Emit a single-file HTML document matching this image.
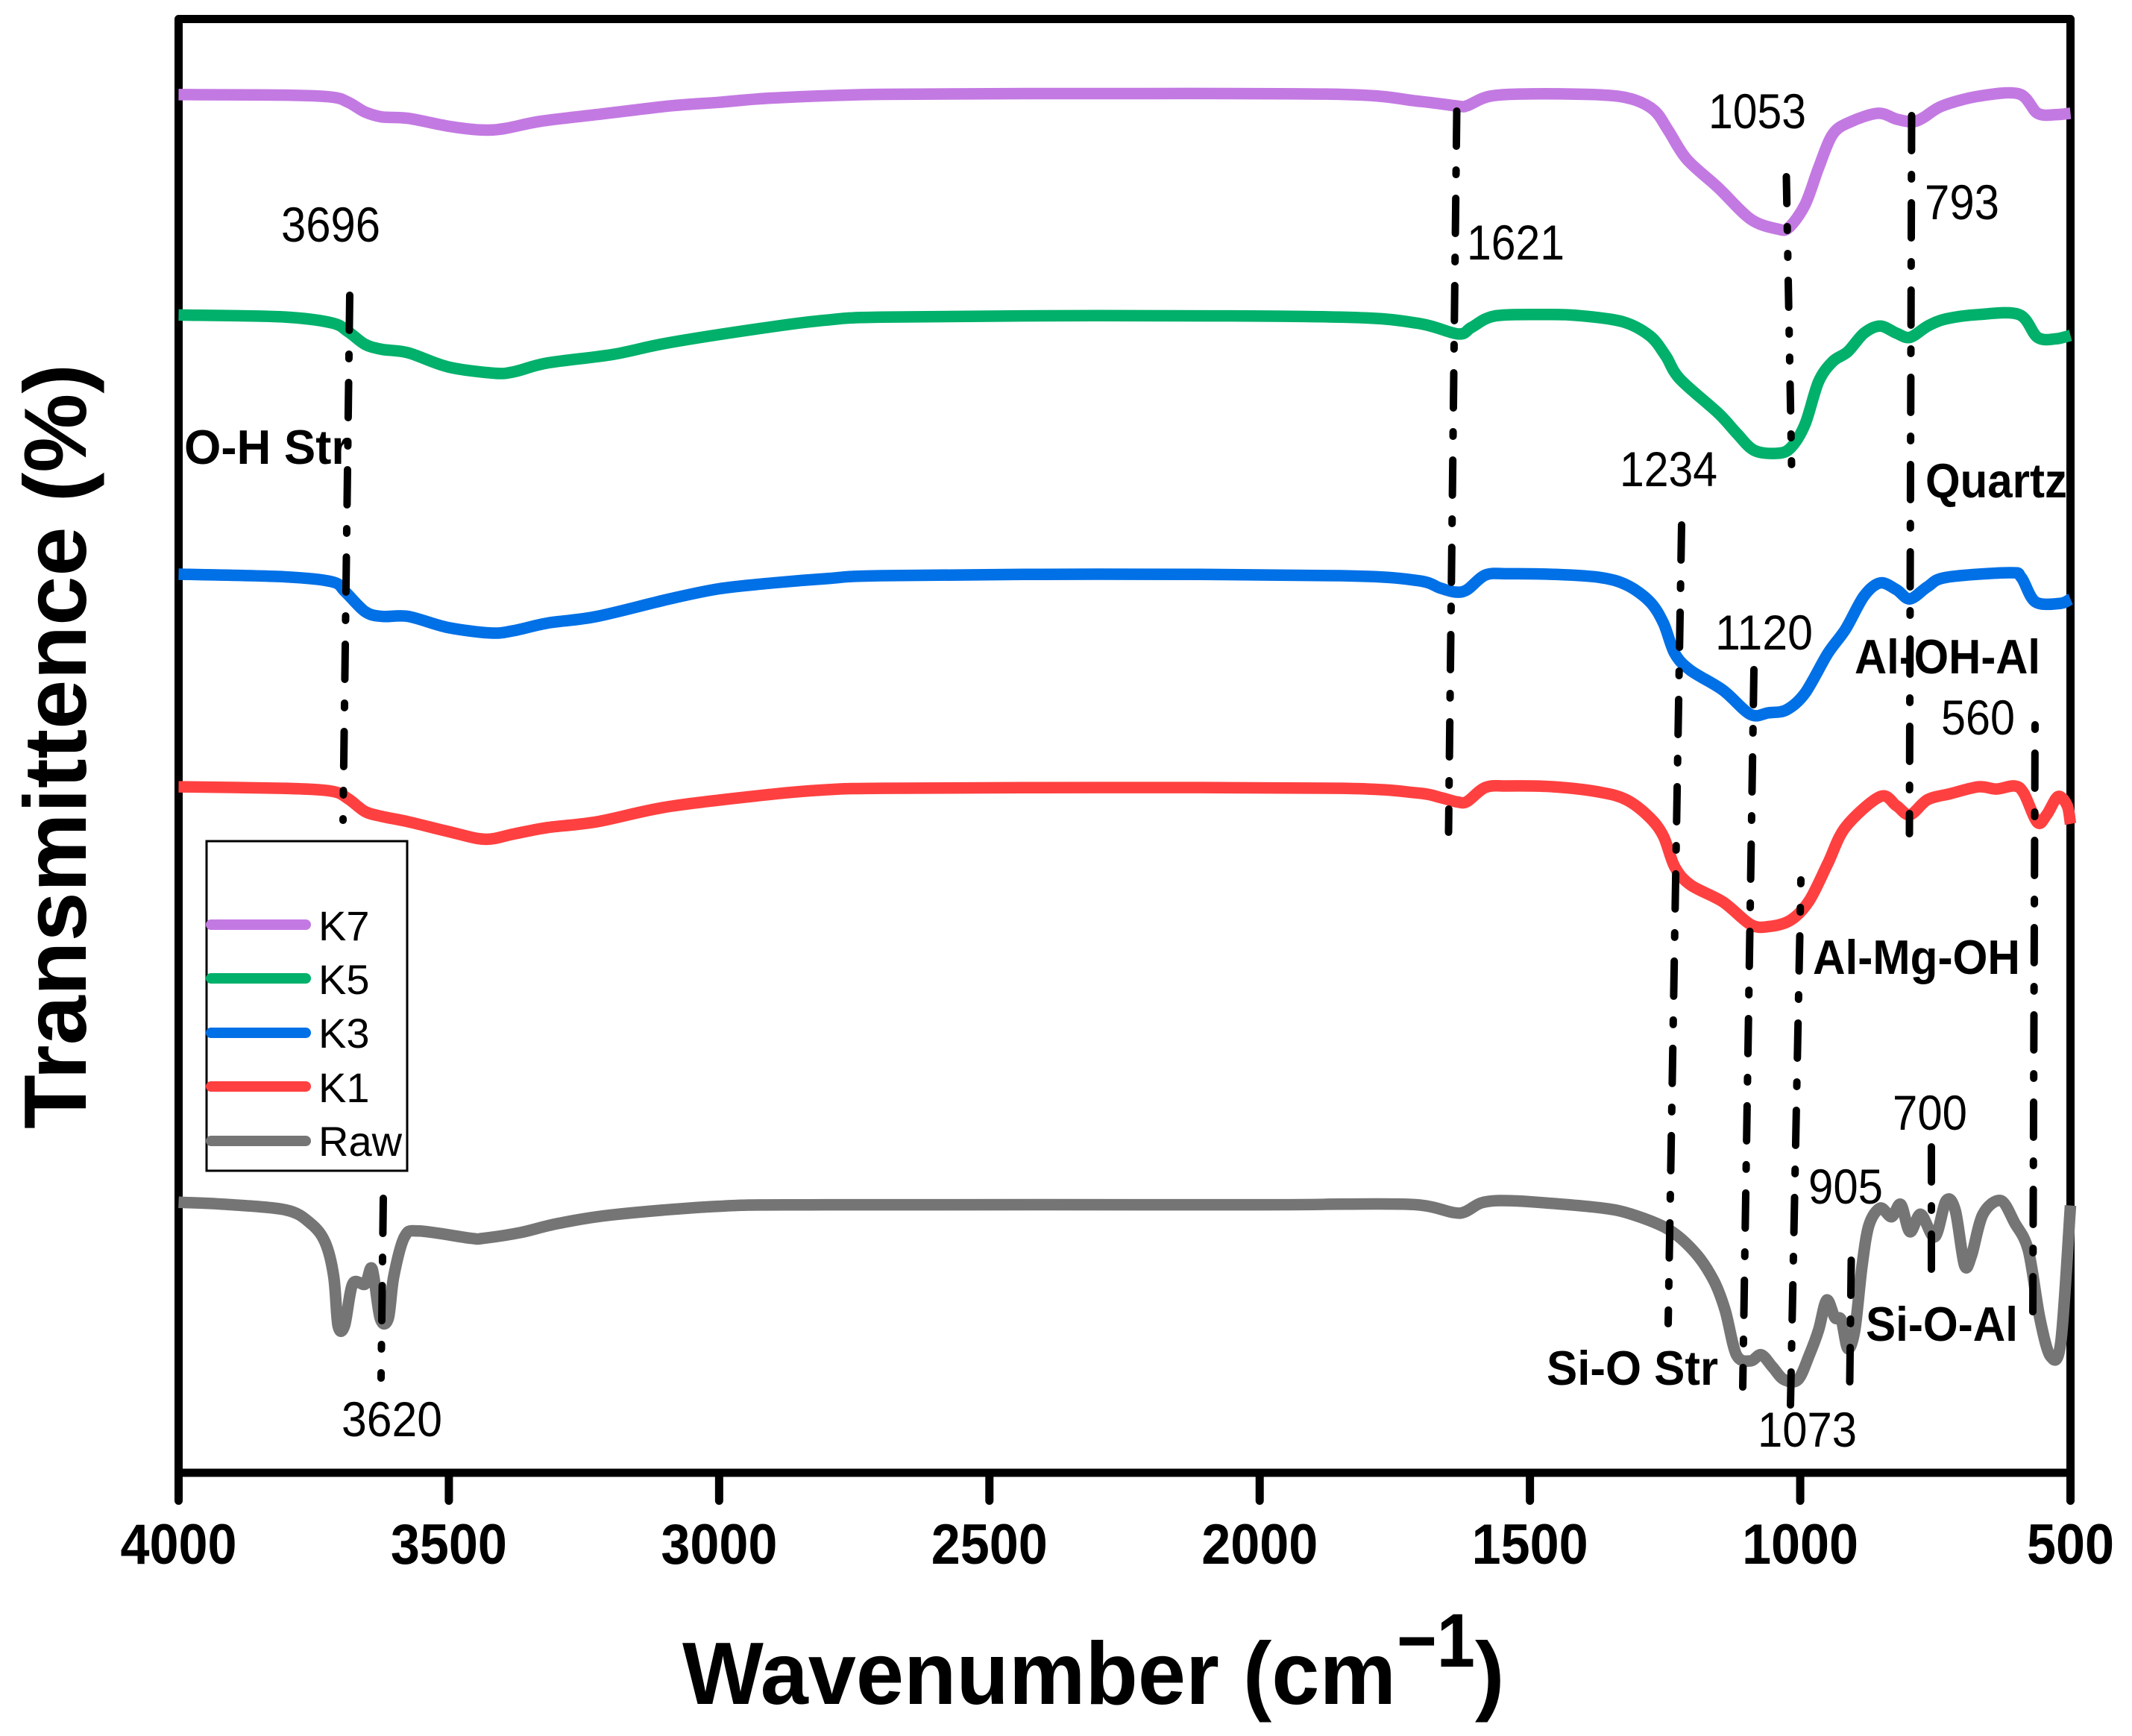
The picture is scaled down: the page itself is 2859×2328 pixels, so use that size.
<!DOCTYPE html>
<html lang="en">
<head>
<meta charset="utf-8">
<title>FTIR spectra</title>
<style>
html,body{margin:0;padding:0;background:#fff;}
svg{display:block;}
text{font-family:"Liberation Sans",Arial,sans-serif;fill:#000;}
.num{font-size:66px;}
.bold{font-size:65px;font-weight:bold;}
.leg{font-size:56px;}
.tick{font-size:76px;font-weight:bold;}
.ann{fill:none;stroke:#000;stroke-width:10;stroke-linecap:round;}
</style>
</head>
<body>
<svg id="chart" xmlns="http://www.w3.org/2000/svg" width="2859" height="2328" viewBox="0 0 2859 2328">
  <rect x="0" y="0" width="2859" height="2328" fill="#fff"/>
  <rect x="239.5" y="25.5" width="2537" height="1949.5" fill="none" stroke="#000" stroke-width="11" stroke-linejoin="round"/>
  <g id="x-ticks"></g>
  <g id="x-labels"></g>
  <g id="series"></g>

  <g>
    <line class="ann" x1="469" y1="396" x2="460" y2="1100" stroke-dasharray="47 32 6 32"/>
    <line class="ann" x1="514" y1="1607" x2="511" y2="1848" stroke-dasharray="47 32 6 32"/>
    <line class="ann" x1="1953.5" y1="149" x2="1942.5" y2="1116" stroke-dasharray="47 32 6 32"/>
    <line class="ann" x1="2395.5" y1="237" x2="2402.5" y2="625" stroke-dasharray="36 31 5 31 5 31"/>
    <line class="ann" x1="2563.5" y1="155" x2="2560.5" y2="1118" stroke-dasharray="47 32 6 32"/>
    <line class="ann" x1="2255" y1="704" x2="2237" y2="1775" stroke-dasharray="47 32 6 32"/>
    <line class="ann" x1="2352" y1="898" x2="2337" y2="1860" stroke-dasharray="47 32 6 32"/>
    <line class="ann" x1="2415" y1="1180" x2="2401" y2="1884" stroke-dasharray="47 32 6 32" stroke-dashoffset="42"/>
    <line class="ann" x1="2729" y1="972" x2="2726" y2="1760" stroke-dasharray="47 32 6 32" stroke-dashoffset="79"/>
    <line class="ann" x1="2482.5" y1="1690" x2="2480.5" y2="1853" stroke-dasharray="47 32 6 32"/>
    <line class="ann" x1="2590" y1="1538" x2="2590" y2="1702" stroke-dasharray="47 32 6 32"/>
  </g>

  <g>
    <text class="num" x="377" y="324" textLength="133" lengthAdjust="spacingAndGlyphs">3696</text>
    <text class="num" x="2291" y="172" textLength="131" lengthAdjust="spacingAndGlyphs">1053</text>
    <text class="num" x="2581" y="294" textLength="100" lengthAdjust="spacingAndGlyphs">793</text>
    <text class="num" x="1967" y="348" textLength="131" lengthAdjust="spacingAndGlyphs">1621</text>
    <text class="num" x="2172" y="652" textLength="131" lengthAdjust="spacingAndGlyphs">1234</text>
    <text class="num" x="2300" y="871" textLength="131" lengthAdjust="spacingAndGlyphs">1120</text>
    <text class="num" x="2603" y="985" textLength="99" lengthAdjust="spacingAndGlyphs">560</text>
    <text class="num" x="2425" y="1614" textLength="100" lengthAdjust="spacingAndGlyphs">905</text>
    <text class="num" x="2538" y="1515" textLength="100" lengthAdjust="spacingAndGlyphs">700</text>
    <text class="num" x="2357" y="1940" textLength="133" lengthAdjust="spacingAndGlyphs">1073</text>
    <text class="num" x="458" y="1926" textLength="135" lengthAdjust="spacingAndGlyphs">3620</text>

    <text class="bold" x="247" y="622" textLength="222" lengthAdjust="spacingAndGlyphs">O-H Str</text>
    <text class="bold" x="2582" y="667" textLength="190" lengthAdjust="spacingAndGlyphs">Quartz</text>
    <text class="bold" x="2487" y="903" textLength="249" lengthAdjust="spacingAndGlyphs">Al-OH-Al</text>
    <text class="bold" x="2431" y="1306" textLength="278" lengthAdjust="spacingAndGlyphs">Al-Mg-OH</text>
    <text class="bold" x="2502" y="1798" textLength="204" lengthAdjust="spacingAndGlyphs">Si-O-Al</text>
    <text class="bold" x="2074" y="1857" textLength="230" lengthAdjust="spacingAndGlyphs">Si-O Str</text>
  </g>

  <g>
    <rect x="277" y="1128" width="269" height="442" fill="none" stroke="#000" stroke-width="3"/>
    <line x1="283" y1="1240" x2="410" y2="1240" stroke="#c379e2" stroke-width="14" stroke-linecap="round"/>
    <text class="leg" x="427" y="1261">K7</text>
    <line x1="283" y1="1312" x2="410" y2="1312" stroke="#00b06b" stroke-width="14" stroke-linecap="round"/>
    <text class="leg" x="427" y="1333">K5</text>
    <line x1="283" y1="1385" x2="410" y2="1385" stroke="#0070e6" stroke-width="14" stroke-linecap="round"/>
    <text class="leg" x="427" y="1405">K3</text>
    <line x1="283" y1="1457" x2="410" y2="1457" stroke="#ff4040" stroke-width="14" stroke-linecap="round"/>
    <text class="leg" x="427" y="1478">K1</text>
    <line x1="283" y1="1530" x2="410" y2="1530" stroke="#757575" stroke-width="14" stroke-linecap="round"/>
    <text class="leg" x="427" y="1550">Raw</text>
  </g>

  <text transform="translate(115,1514) rotate(-90)" font-size="119" font-weight="bold" textLength="1026" lengthAdjust="spacingAndGlyphs">Transmittence (%)</text>
  <g>
    <text x="915" y="2285" font-size="119" font-weight="bold" textLength="957" lengthAdjust="spacingAndGlyphs">Wavenumber (cm</text>
    <text x="1873" y="2235" font-size="102" font-weight="bold" textLength="105" lengthAdjust="spacingAndGlyphs">&#8722;1</text>
    <text x="1978" y="2285" font-size="119" font-weight="bold">)</text>
  </g>
</svg>
<script>
const tickValues = [4000, 3500, 3000, 2500, 2000, 1500, 1000, 500];

const k7Wavenumber = [4000,3809,3717,3686,3655,3624,3575,3502,3440,3397,3330,3226,3092,3000,2900,2700,2300,1850,1709,1633,1616,1574,1497,1371,1312,1270,1244,1210,1152,1092,1042,1021,991,966,940,907,856,822,793,772,738,670,595,561,527,500];
const k7Transmittance = [94.63,94.6,94.46,94.1,93.43,93.1,93.0,92.47,92.2,92.3,92.8,93.26,93.85,94.1,94.4,94.65,94.7,94.65,94.19,93.84,93.87,94.52,94.68,94.62,94.33,93.54,92.17,90.2,88.25,86.09,85.4,85.5,87.07,89.6,91.9,92.76,93.35,92.95,92.76,93.05,93.84,94.52,94.68,93.35,93.25,93.35];

const k5Wavenumber = [4000,3809,3717,3686,3655,3624,3575,3502,3416,3379,3318,3195,3092,2900,2800,2700,2300,1850,1709,1633,1608,1565,1473,1413,1329,1278,1249,1223,1152,1118,1085,1042,1017,991,966,940,912,882,852,822,797,764,730,670,595,561,527,500];
const k5Transmittance = [79.5,79.37,78.96,78.34,77.48,77.14,76.9,75.94,75.5,75.6,76.2,76.8,77.6,78.7,79.15,79.35,79.45,79.35,78.94,78.2,78.65,79.43,79.53,79.47,79.04,78.06,76.7,75.12,72.77,71.4,70.2,70.0,70.4,72,74.92,76.3,76.98,78.25,78.74,78.25,77.96,78.74,79.23,79.53,79.53,77.96,77.86,78.1];

const k3Wavenumber = [4000,3809,3717,3692,3655,3624,3575,3502,3422,3379,3318,3226,3092,3000,2900,2800,2700,2300,1850,1709,1666,1637,1616,1582,1540,1456,1371,1321,1278,1253,1232,1203,1143,1092,1059,1025,991,949,916,882,852,822,797,764,730,612,591,565,518,500];
const k3Transmittance = [61.7,61.53,61.19,60.5,59.13,58.8,58.8,58.04,57.66,57.83,58.34,58.8,60.0,60.7,61.1,61.4,61.6,61.7,61.6,61.27,60.75,60.47,60.64,61.65,61.73,61.69,61.48,60.96,59.8,58.34,56.25,55.1,53.74,52.07,52.18,52.39,53.54,56.25,57.93,60.2,61.1,60.64,60,60.85,61.48,61.8,61.48,59.8,59.7,60];

const k1Wavenumber = [4000,3809,3717,3686,3655,3624,3575,3502,3434,3379,3318,3226,3092,2900,2800,2700,2300,1850,1709,1666,1633,1616,1582,1540,1456,1371,1321,1278,1253,1232,1203,1143,1092,1059,1017,983,949,916,852,822,797,764,721,670,637,603,586,561,544,523,506,500];
const k1Transmittance = [47.1,47,46.8,46.27,45.4,45.07,44.7,44.04,43.5,43.87,44.3,44.7,45.75,46.6,46.9,47.0,47.05,47.0,46.68,46.37,46.05,46.1,47.06,47.16,47.1,46.74,46.2,44.97,43.7,41.6,40.37,39.2,37.65,37.5,37.96,39.3,41.83,44.34,46.43,45.8,45.18,46.22,46.64,47.1,46.95,47.16,46.64,44.65,45.18,46.43,45.8,44.55];

const rawWavenumber = [4000,3917,3802,3756,3729,3713,3705,3693,3678,3655,3642,3627,3612,3602,3582,3555,3459,3436,3367,3300,3200,3000,2800,2000,1850,1709,1642,1620,1591,1557,1497,1371,1312,1244,1194,1160,1139,1118,1092,1072,1051,1030,1004,983,966,951,936,924,912,899,886,873,852,831,814,797,777,751,730,713,696,683,662,629,603,578,557,537,518,500];
const rawTransmittance = [18.57,18.44,18.05,17.13,15.83,13.48,10.09,10.09,12.96,12.96,14,10.6,10.6,13.48,16.2,16.6,16.1,16.1,16.5,17.1,17.7,18.3,18.4,18.4,18.45,18.4,17.87,17.92,18.52,18.69,18.6,18.2,17.75,16.72,15.1,13.2,11.18,8.1,7.68,8.1,7.25,6.4,6.4,8.1,9.8,11.86,10.66,10.5,8.53,9.8,14.08,16.98,18.17,17.58,18.43,16.55,17.75,16.2,18.69,18,14.25,14.93,17.75,18.69,17.15,15.27,10.66,8,8.96,18.35];

const seriesNames = ['k7', 'k5', 'k3', 'k1', 'raw'];
const seriesColors = ['#c379e2', '#00b06b', '#0070e6', '#ff4040', '#757575'];
const seriesX = [k7Wavenumber, k5Wavenumber, k3Wavenumber, k1Wavenumber, rawWavenumber];
const seriesY = [k7Transmittance, k5Transmittance, k3Transmittance, k1Transmittance, rawTransmittance];

const SVG_NS = 'http://www.w3.org/2000/svg';
const plotLeft = 239.5, plotRight = 2776.5, plotTop = 22, plotBottom = 1975;
function xScale(wn) { return plotLeft + (4000 - wn) / 3500 * (plotRight - plotLeft); }
function yScale(t) { return plotBottom - t / 100 * (plotBottom - plotTop); }

function smoothPath(pts) {
  let d = 'M' + pts[0][0].toFixed(1) + ' ' + pts[0][1].toFixed(1);
  const k = 0.16;
  for (let i = 0; i < pts.length - 1; i++) {
    const p0 = pts[Math.max(i - 1, 0)], p1 = pts[i], p2 = pts[i + 1], p3 = pts[Math.min(i + 2, pts.length - 1)];
    const c1x = p1[0] + (p2[0] - p0[0]) * k, c1y = p1[1] + (p2[1] - p0[1]) * k;
    const c2x = p2[0] - (p3[0] - p1[0]) * k, c2y = p2[1] - (p3[1] - p1[1]) * k;
    d += 'C' + c1x.toFixed(1) + ' ' + c1y.toFixed(1) + ' ' + c2x.toFixed(1) + ' ' + c2y.toFixed(1) + ' ' + p2[0].toFixed(1) + ' ' + p2[1].toFixed(1);
  }
  return d;
}

const tickGroup = document.getElementById('x-ticks');
const labelGroup = document.getElementById('x-labels');
tickValues.forEach(function (v) {
  const line = document.createElementNS(SVG_NS, 'line');
  
  
  line.setAttribute('x1', xScale(v));
  line.setAttribute('x2', xScale(v));
  line.setAttribute('y1', plotBottom);
  line.setAttribute('y2', 2012.5);
  line.setAttribute('stroke', '#000');
  line.setAttribute('stroke-width', 11);
  line.setAttribute('stroke-linecap', 'round');
  tickGroup.appendChild(line);
  const label = document.createElementNS(SVG_NS, 'text');
  
  
  label.setAttribute('class', 'tick');
  label.setAttribute('x', xScale(v));
  label.setAttribute('y', 2097);
  label.setAttribute('text-anchor', 'middle');
  label.setAttribute('textLength', String(v).length * 39);
  label.setAttribute('lengthAdjust', 'spacingAndGlyphs');
  label.textContent = v;
  labelGroup.appendChild(label);
});

const seriesGroup = document.getElementById('series');
seriesNames.forEach(function (name, i) {
  const pts = seriesX[i].map(function (wn, j) { return [xScale(wn), yScale(seriesY[i][j])]; });
  const path = document.createElementNS(SVG_NS, 'path');
  
  
  path.setAttribute('d', smoothPath(pts));
  path.setAttribute('fill', 'none');
  path.setAttribute('stroke', seriesColors[i]);
  path.setAttribute('stroke-width', 15.5);
  path.setAttribute('stroke-linejoin', 'round');
  seriesGroup.appendChild(path);
});
</script>
</body>
</html>
